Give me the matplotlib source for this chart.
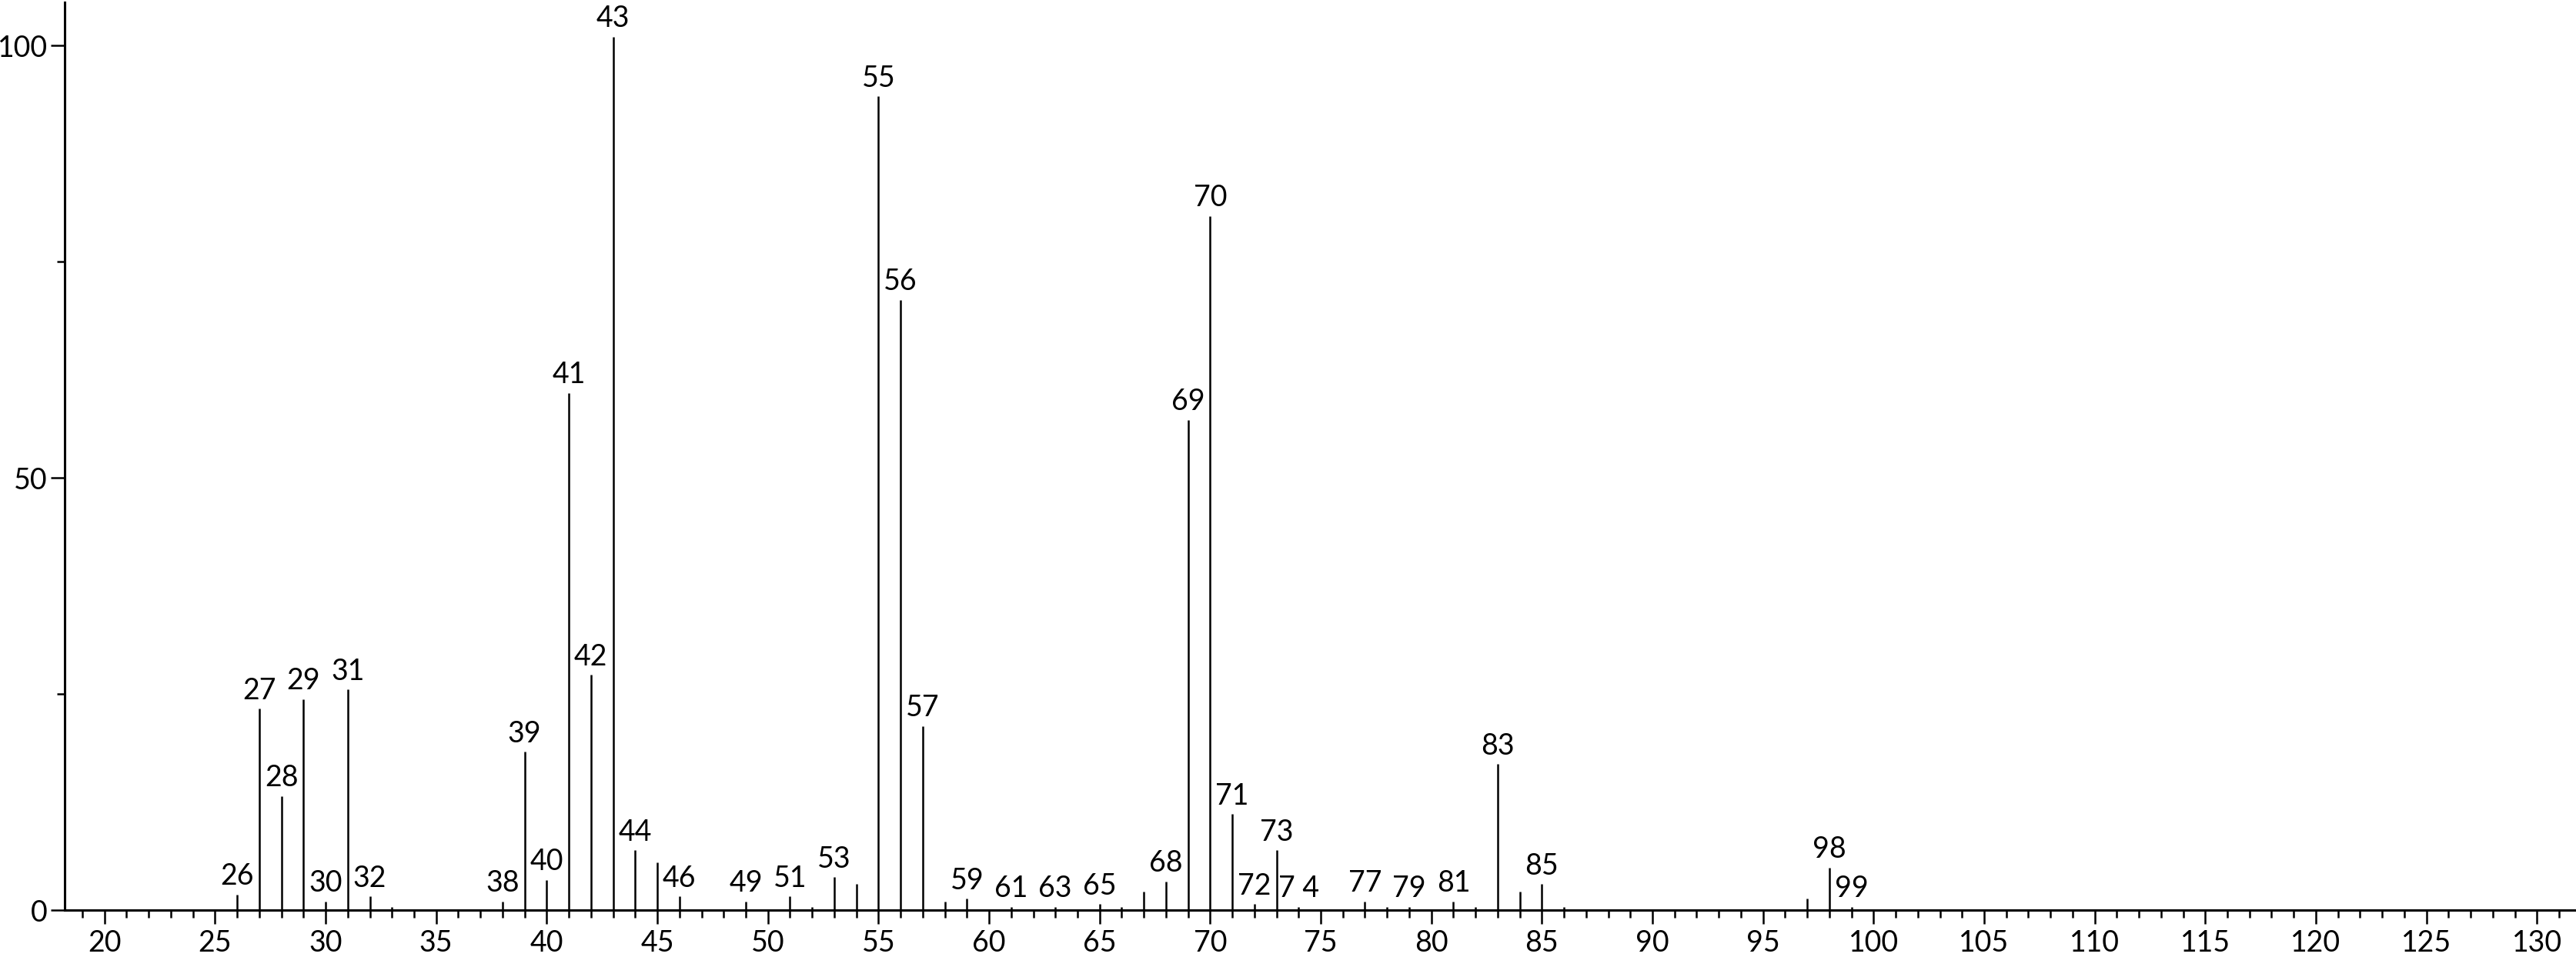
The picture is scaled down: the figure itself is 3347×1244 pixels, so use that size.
import matplotlib.pyplot as plt
from matplotlib.ticker import MultipleLocator

plt.rcParams['font.family'] = ['Lato', 'DejaVu Sans']

# Peaks (m/z and relative intensity)
mz = [26, 27, 28, 29, 30, 31, 32, 33, 38, 39, 40, 41, 42, 43, 44, 45, 46,
      49, 51, 52, 53, 54, 55, 56, 57, 58, 59, 61, 63, 65, 66, 67, 68, 69,
      70, 71, 72, 73, 74, 77, 78, 79, 81, 82, 83, 84, 85, 86, 97, 98, 99]
intensity = [1.8, 23.3, 13.2, 24.4, 1.0, 25.5, 1.6, 0.4, 1.0, 18.3, 3.5, 59.8, 27.2, 101, 6.9, 5.5, 1.6,
             1.0, 1.6, 0.4, 3.8, 3.0, 94.1, 70.6, 21.3, 1.0, 1.3, 0.4, 0.4, 0.7, 0.4, 2.1, 3.3, 56.7,
             80.3, 11.1, 0.7, 6.9, 0.4, 1.0, 0.4, 0.4, 1.0, 0.4, 16.9, 2.1, 3.0, 0.4, 1.3, 4.9, 0.4]

# Peaks that carry a label
label_mz = [26, 27, 28, 29, 30, 31, 32, 38, 39, 40, 41, 42, 43, 44, 46, 49, 51, 53,
            55, 56, 57, 59, 61, 63, 65, 68, 69, 70, 71, 72, 73, 74, 77, 79, 81, 83, 85, 98, 99]
label_text = ['26', '27', '28', '29', '30', '31', '32', '38', '39', '40', '41', '42', '43', '44',
              '46', '49', '51', '53', '55', '56', '57', '59', '61', '63', '65', '68', '69', '70',
              '71', '72', '73', '7 4', '77', '79', '81', '83', '85', '98', '99']

fig = plt.figure(figsize=(33.48, 12.44), dpi=100)
ax = fig.add_axes([0.0251, 0.049, 0.9749, 0.9486])

ax.vlines(mz, 0, intensity, color='black', lw=1.8)

height = dict(zip(mz, intensity))
for m, t in zip(label_mz, label_text):
    ax.annotate(t, (m, height[m]), xytext=(0, 9), textcoords='offset points',
                ha='center', va='baseline', fontsize=27)

ax.set_xlim(18.2, 131.8)
ax.set_ylim(0, 105)

ax.spines['top'].set_visible(False)
ax.spines['right'].set_visible(False)
ax.spines['left'].set_linewidth(2.2)
ax.spines['bottom'].set_linewidth(2.2)

ax.xaxis.set_major_locator(MultipleLocator(5))
ax.xaxis.set_minor_locator(MultipleLocator(1))
ax.set_yticks([0, 50, 100])
ax.set_yticks([25, 75], minor=True)

ax.tick_params(which='major', length=13, width=1.8, labelsize=27, direction='out')
ax.tick_params(which='minor', length=7, width=1.8, direction='out')
ax.tick_params(axis='x', pad=5)
ax.tick_params(axis='y', pad=3)

fig.savefig('out.png', dpi=100)
